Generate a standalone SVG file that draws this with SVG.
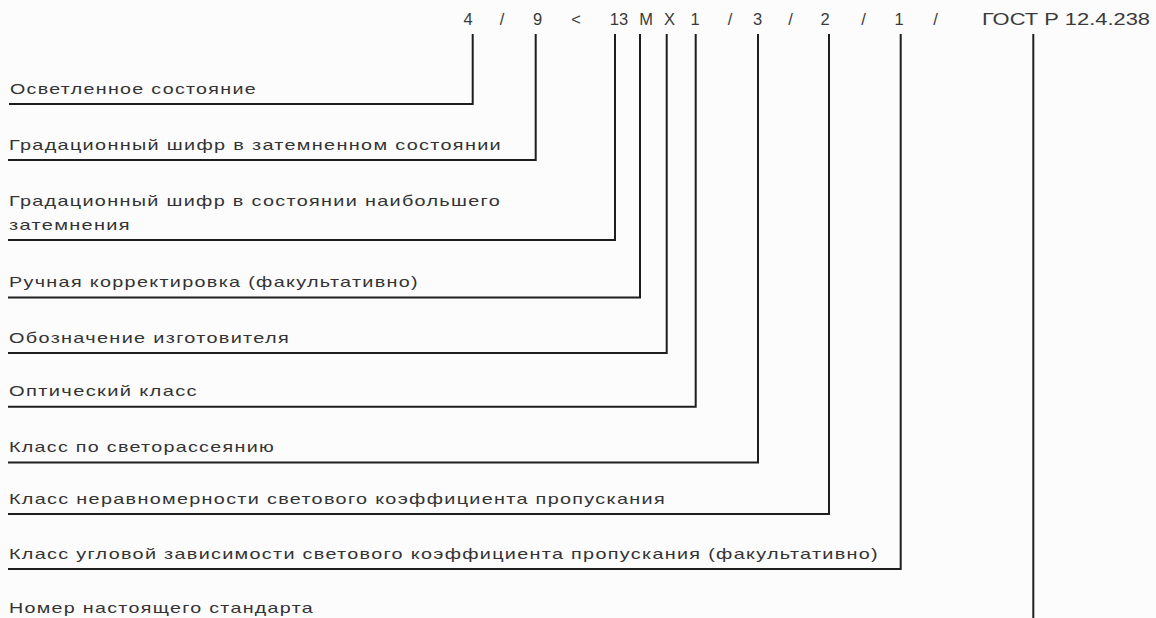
<svg xmlns="http://www.w3.org/2000/svg" width="1156" height="618" viewBox="0 0 1156 618">
<style>
.lbl{font-family:"Liberation Sans",Arial,sans-serif;font-size:15px;letter-spacing:1px;fill:#333333}
.top{font-family:"Liberation Sans",Arial,sans-serif;font-size:16.5px;fill:#3a3a3a;text-anchor:middle}
.ln{fill:none;stroke:#1e1e1e;stroke-width:2;stroke-linejoin:miter;stroke-linecap:square}
</style>
<rect width="1156" height="618" fill="#fcfcfc"/>
<g id="designation">
<text class="top" x="468" y="25">4</text>
<text class="top" x="502" y="25">/</text>
<text class="top" x="537.5" y="25">9</text>
<text class="top" x="576" y="25">&lt;</text>
<text class="top" x="619" y="25">13</text>
<text class="top" x="646" y="25">М</text>
<text class="top" x="669.5" y="25">Х</text>
<text class="top" x="695" y="25">1</text>
<text class="top" x="730" y="25">/</text>
<text class="top" x="757.5" y="25">3</text>
<text class="top" x="790.5" y="25">/</text>
<text class="top" x="825" y="25">2</text>
<text class="top" x="863.5" y="25">/</text>
<text class="top" x="899" y="25">1</text>
<text class="top" x="935.5" y="25">/</text>
<text class="top" x="1066" y="25" textLength="168" lengthAdjust="spacingAndGlyphs">ГОСТ Р 12.4.238</text>
</g>
<g id="connectors">
<polyline class="ln" points="472.7,35 472.7,104 10,104"/>
<polyline class="ln" points="535.7,35 535.7,160 9,160"/>
<polyline class="ln" points="615,35 615,240 9,240"/>
<polyline class="ln" points="640,35 640,297.5 9,297.5"/>
<polyline class="ln" points="666.7,35 666.7,353 9,353"/>
<polyline class="ln" points="695.7,35 695.7,406.7 9,406.7"/>
<polyline class="ln" points="758,35 758,462.5 9,462.5"/>
<polyline class="ln" points="829,35 829,514 9,514"/>
<polyline class="ln" points="900.7,35 900.7,569 9,569"/>
<line class="ln" x1="1033.3" y1="35" x2="1033.3" y2="620"/>
</g>
<g id="n1"><text class="lbl" x="10" y="93.5" textLength="247" lengthAdjust="spacingAndGlyphs">Осветленное состояние</text></g>
<g id="n2"><text class="lbl" x="9" y="150" textLength="493" lengthAdjust="spacingAndGlyphs">Градационный шифр в затемненном состоянии</text></g>
<g id="n3"><text class="lbl" x="9" y="205.5" textLength="492" lengthAdjust="spacingAndGlyphs">Градационный шифр в состоянии наибольшего</text><text class="lbl" x="9" y="230" textLength="122" lengthAdjust="spacingAndGlyphs">затемнения</text></g>
<g id="n4"><text class="lbl" x="9" y="287" textLength="410" lengthAdjust="spacingAndGlyphs">Ручная корректировка (факультативно)</text></g>
<g id="n5"><text class="lbl" x="9" y="342.5" textLength="281" lengthAdjust="spacingAndGlyphs">Обозначение изготовителя</text></g>
<g id="n6"><text class="lbl" x="9" y="396" textLength="189" lengthAdjust="spacingAndGlyphs">Оптический класс</text></g>
<g id="n7"><text class="lbl" x="9" y="452" textLength="266" lengthAdjust="spacingAndGlyphs">Класс по светорассеянию</text></g>
<g id="n8"><text class="lbl" x="9" y="503.5" textLength="657" lengthAdjust="spacingAndGlyphs">Класс неравномерности светового коэффициента пропускания</text></g>
<g id="n9"><text class="lbl" x="9" y="558.5" textLength="870" lengthAdjust="spacingAndGlyphs">Класс угловой зависимости светового коэффициента пропускания (факультативно)</text></g>
<g id="n10"><text class="lbl" x="9" y="613" textLength="305" lengthAdjust="spacingAndGlyphs">Номер настоящего стандарта</text></g>
</svg>
